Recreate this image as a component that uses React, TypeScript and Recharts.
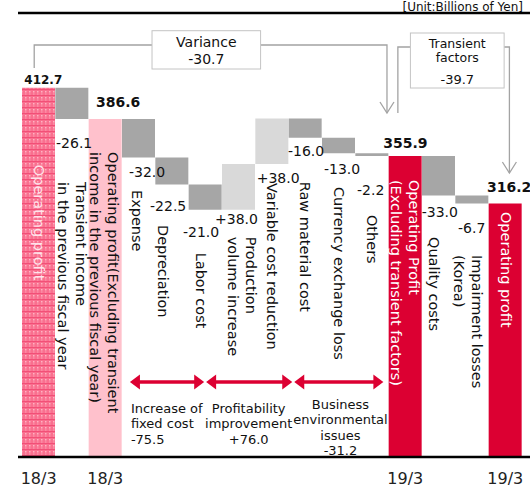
import React from "react"
import { Bar, BarChart, Cell, LabelList, ReferenceLine, XAxis, YAxis } from "recharts"

// categories, drawn as rotated multi-line labels
const CATEGORIES: string[][] = [
  ["Operating profit"],
  ["Transient income", "in the previous fiscal year"],
  ["Operating profit(Excluding transient", "income in the previous fiscal year)"],
  ["Expense"],
  ["Depreciation"],
  ["Labor cost"],
  ["Production", "volume increase"],
  ["Variable cost reduction"],
  ["Raw material cost"],
  ["Currency exchange loss"],
  ["Others"],
  ["Operating Profit", "(Excluding transient factors)"],
  ["Quality costs"],
  ["Impairment losses", "(Korea)"],
  ["Operating profit"],
]
const VALUES = [412.7, -26.1, 386.6, -32.0, -22.5, -21.0, 38.0, 38.0, -16.0, -13.0, -2.2, 355.9, -33.0, -6.7, 316.2]
const IS_TOTAL = [true, false, true, false, false, false, false, false, false, false, false, true, false, false, true]
const TICKS = ["18/3", "", "18/3", "", "", "", "", "", "", "", "", "19/3", "", "", "19/3"]
const GROUP_NAMES = [["Increase of", "fixed cost"], ["Profitability", "improvement"], ["Business", "environmental", "issues"]]
const GROUP_VALUES = ["-75.5", "+76.0", "-31.2"]
const VARIANCE_LABEL = ["Variance", "-30.7"]
const TRANSIENT_LABEL = ["Transient", "factors", "-39.7"]
const UNIT = "[Unit:Billions of Yen]"

const AXIS_MIN = 105
const AXIS_MAX = 475
const MARGIN = { top: 13, right: 0, bottom: 0, left: 18 }
const FONT = '"DejaVu Sans", Verdana, sans-serif'

const GRAY = "#a6a6a6"
const LIGHT_GRAY = "#d9d9d9"
const LIGHT_PINK = "#ffc1cc"
const RED = "#dc0032"
const LINE = "#a3a3a3"

// per-bar label placement (offsets from the bar's own geometry)
const LAYOUT = [
  { vx: 2.3, vy: -8, cx: 0, cy: 77 },
  { vx: 0.7, vy: 24, cx: 0, cy: 63 },
  { vx: 7.3, vy: -17, cx: -1.5, cy: 33 },
  { vx: 7, vy: 14.5, cx: -1.7, cy: 32.5 },
  { vx: -5.3, vy: 21.5, cx: -9, cy: 40.5 },
  { vx: -5.7, vy: 22, cx: -3.8, cy: 43 },
  { vx: -7, vy: 9.5, cx: 3.8, cy: 27 },
  { vx: 1.4, vy: 14, cx: 0, cy: 19 },
  { vx: -0.7, vy: 13.5, cx: 0, cy: 44 },
  { vx: 2, vy: 16, cx: 0, cy: 33.7 },
  { vx: 1.7, vy: 34.5, cx: 0, cy: 59 },
  { vx: -5.4, vy: -13, cx: 0, cy: 24 },
  { vx: -0.3, vy: 16.5, cx: -4.7, cy: 41.5 },
  { vx: 2.7, vy: 24.5, cx: -3.5, cy: 51.4 },
  { vx: -1.7, vy: -16.6, cx: 1, cy: 8.4 },
]

let level = 0
const data = VALUES.map((v, i) => {
  if (IS_TOTAL[i]) {
    level = v
    return { id: i, range: [AXIS_MIN, v] }
  }
  const prev = level
  level = Math.round((level + v) * 10) / 10
  return { id: i, range: [Math.min(prev, level), Math.max(prev, level)] }
})

function fillFor(i: number): string {
  if (i === 0) return "url(#pinkGrid)"
  if (i === 2) return LIGHT_PINK
  if (IS_TOTAL[i]) return RED
  return VALUES[i] > 0 ? LIGHT_GRAY : GRAY
}

function textColorFor(i: number): string {
  if (i === 0) return "#ffe3ea"
  if (IS_TOTAL[i] && i !== 2) return "#fff"
  return "#111"
}

function formatValue(i: number): string {
  const v = VALUES[i]
  if (IS_TOTAL[i]) return v.toFixed(1)
  return (v > 0 ? "+" : "") + v.toFixed(1)
}

function Tick(props: any) {
  const { x, y, payload } = props
  return (
    <text x={x} y={y + 27} textAnchor="middle" fontSize={16} fontWeight="normal" fontFamily={FONT} fill="#222">
      {TICKS[payload.value]}
    </text>
  )
}

function DoubleArrow({ x1, x2, y }: { x1: number; x2: number; y: number }) {
  const hl = 10
  const hw = 7.5
  return (
    <g fill={RED}>
      <line x1={x1 + hl - 1} x2={x2 - hl + 1} y1={y} y2={y} stroke={RED} strokeWidth={3.5} />
      <polygon points={`${x1},${y} ${x1 + hl},${y - hw} ${x1 + hl},${y + hw}`} />
      <polygon points={`${x2},${y} ${x2 - hl},${y - hw} ${x2 - hl},${y + hw}`} />
    </g>
  )
}

function Overlay({ x0, w }: { x0: number; w: number }) {
  const bx = (u: number) => x0 + u * w
  const T = MARGIN.top
  const vL = bx(3.94)
  const vR = bx(7.23)
  const tL = bx(11.77)
  const tR = bx(14.61)
  const aV = bx(11.06)
  const aT = bx(14.77)
  const text = { fontFamily: FONT, fill: "#111", textAnchor: "middle" as const, dominantBaseline: "central" as const }
  return (
    <g>
      <text x={bx(15) + 6} y={11} textAnchor="end" fontSize={12} fontFamily={FONT} fill="#111">
        {UNIT}
      </text>

      {/* variance and transient brackets */}
      <g fill="none" stroke={LINE} strokeWidth={1.3}>
        <polyline points={`${bx(0.37)},${T + 55} ${bx(0.37)},${T + 32} ${vL},${T + 32}`} />
        <polyline points={`${vR},${T + 32} ${aV},${T + 32} ${aV},${T + 100}`} />
        <polyline points={`${aV - 7},${T + 89} ${aV},${T + 100} ${aV + 7},${T + 89}`} />
        <polyline points={`${bx(11.39)},${T + 100} ${bx(11.39)},${T + 34} ${tL},${T + 34}`} />
        <polyline points={`${tR},${T + 34} ${aT},${T + 34} ${aT},${T + 160}`} />
        <polyline points={`${aT - 7},${T + 149} ${aT},${T + 160} ${aT + 7},${T + 149}`} />
      </g>
      <rect x={vL} y={T + 17.7} width={vR - vL} height={38.3} fill="#fff" stroke="#c4c4c4" />
      <text {...text} x={(vL + vR) / 2} y={T + 29} fontSize={14}>{VARIANCE_LABEL[0]}</text>
      <text {...text} x={(vL + vR) / 2} y={T + 46} fontSize={14}>{VARIANCE_LABEL[1]}</text>

      <rect x={tL} y={T + 20} width={tR - tL} height={55} fill="#fff" stroke="#c4c4c4" />
      <text {...text} x={(tL + tR) / 2} y={T + 30.5} fontSize={12.5}>{TRANSIENT_LABEL[0]}</text>
      <text {...text} x={(tL + tR) / 2} y={T + 44} fontSize={12.5}>{TRANSIENT_LABEL[1]}</text>
      <text {...text} x={(tL + tR) / 2} y={T + 66} fontSize={13}>{TRANSIENT_LABEL[2]}</text>

      {/* group arrows */}
      <DoubleArrow x1={bx(3.27)} x2={bx(5.52)} y={T + 369} />
      <DoubleArrow x1={bx(5.58)} x2={bx(8.19)} y={T + 369} />
      <DoubleArrow x1={bx(8.25)} x2={bx(10.95)} y={T + 369} />

      {[...GROUP_NAMES[0], GROUP_VALUES[0]].map((s, k) => (
        <text key={`g0${k}`} {...text} textAnchor="start" x={bx(3.3)} y={T + 395 + k * 15.5} fontSize={13}>{s}</text>
      ))}
      {[...GROUP_NAMES[1], GROUP_VALUES[1]].map((s, k) => (
        <text key={`g1${k}`} {...text} x={bx(6.87)} y={T + 395 + k * 15.5} fontSize={13}>{s}</text>
      ))}
      {[...GROUP_NAMES[2], GROUP_VALUES[2]].map((s, k) => (
        <text key={`g2${k}`} {...text} x={bx(9.65)} y={T + 391 + k * 15.5} fontSize={13}>{s}</text>
      ))}
    </g>
  )
}

function BarLabels(props: any) {
  const vb = props.viewBox ?? props
  const { x, y, width, height } = vb
  const i = Number(props.value)
  const lay = LAYOUT[i]
  const total = IS_TOTAL[i]
  const edge = total ? y : y + height
  const lines = CATEGORIES[i]
  const cx = x + width / 2 + lay.cx
  const cy = edge + lay.cy
  const lineH = 18
  return (
    <g>
      {i === 0 && <Overlay x0={x} w={width} />}
      <text
        x={x + lay.vx}
        y={edge + lay.vy}
        dominantBaseline="central"
        fontFamily={FONT}
        fontSize={total ? (i === 0 ? 12 : 14) : 14}
        fontWeight={total ? "bold" : "normal"}
        fill="#111"
      >
        {formatValue(i)}
      </text>
      <g transform={`translate(${cx},${cy}) rotate(90)`}>
        {lines.map((s, k) => (
          <text
            key={k}
            x={0}
            y={(k - (lines.length - 1) / 2) * lineH}
            dominantBaseline="central"
            fontFamily={FONT}
            fontSize={14.5}
            fill={textColorFor(i)}
          >
            {s}
          </text>
        ))}
      </g>
    </g>
  )
}

export default function App() {
  return (
    <div style={{ position: "absolute", left: 0, top: 0, width: 530, height: 489, background: "#fff" }}>
      <BarChart width={530} height={489} data={data} margin={MARGIN} barCategoryGap={0} barGap={0}>
        <defs>
          <pattern id="pinkGrid" width="4" height="6" patternUnits="userSpaceOnUse">
            <rect width="4" height="6" fill="#f9708f" />
            <rect x="1" y="1" width="1.5" height="1.5" fill="#ffb3c4" />
            <rect x="1" y="3.5" width="1.5" height="1" fill="#ffa0b6" />
            <rect y="5" width="4" height="1" fill="#f24f77" />
          </pattern>
        </defs>
        <XAxis
          dataKey="id"
          type="category"
          height={32}
          padding={{ left: 4, right: 8 }}
          axisLine={{ stroke: "#000", strokeWidth: 2.5 }}
          tickLine={false}
          tickSize={0}
          tickMargin={0}
          interval={0}
          tick={<Tick />}
        />
        <YAxis
          type="number"
          domain={[AXIS_MIN, AXIS_MAX]}
          width={0}
          tick={false}
          tickLine={false}
          axisLine={{ stroke: "#000", strokeWidth: 2 }}
        />
        <ReferenceLine y={AXIS_MAX} stroke="#000" strokeWidth={2.5} />
        <Bar dataKey="range" isAnimationActive={false}>
          {data.map((d) => (
            <Cell key={d.id} fill={fillFor(d.id)} />
          ))}
          <LabelList dataKey="id" content={BarLabels} />
        </Bar>
      </BarChart>
    </div>
  )
}
